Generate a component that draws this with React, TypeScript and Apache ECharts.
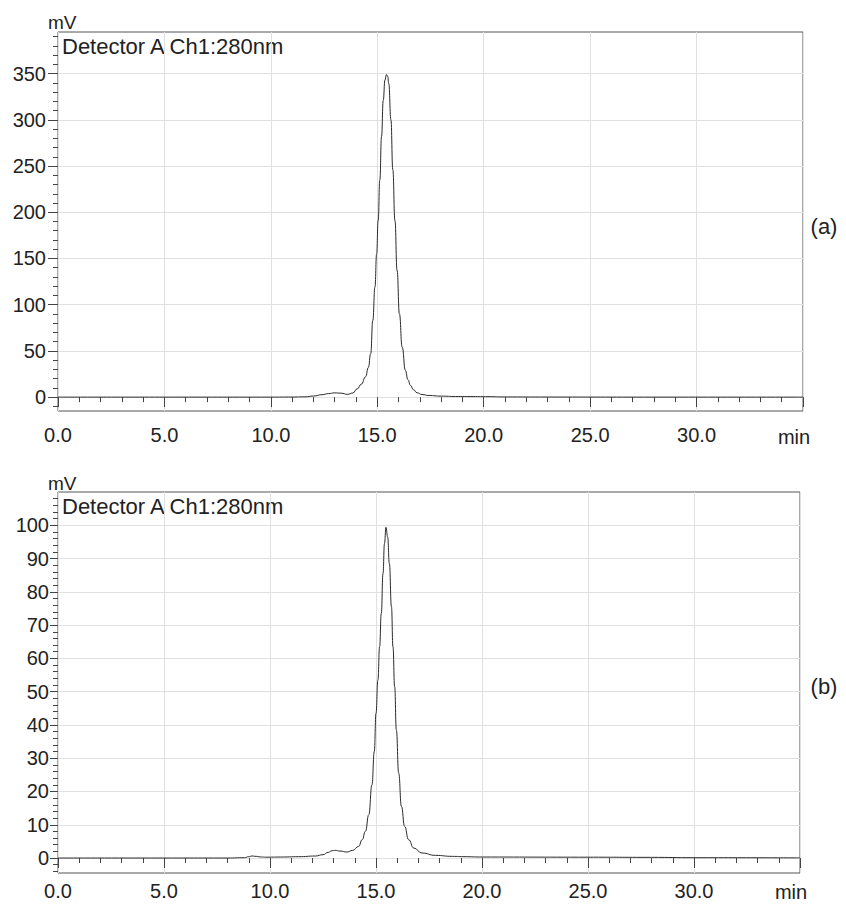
import React, { useEffect, useRef } from "react";
import * as echarts from "echarts";

// ---- Data ----
const timesA = [0, 5, 10, 11.0, 11.6, 12.0, 12.4, 12.7, 13.0, 13.3, 13.6, 13.85, 14.06, 14.25, 14.45, 14.58, 14.69, 14.79, 14.89, 14.97, 15.04, 15.12, 15.2, 15.28, 15.36, 15.43, 15.49, 15.54, 15.64, 15.73, 15.83, 15.93, 16.04, 16.17, 16.32, 16.44, 16.56, 16.7, 16.87, 17.1, 17.42, 18.0, 18.67, 19.5, 20.2, 21.0, 23, 28, 35];
const valuesA = [0, 0, 0, 0.1, 0.3, 1.2, 2.6, 3.8, 4.6, 4.3, 3.0, 4.5, 9.0, 14, 22, 32, 47, 83, 119, 155, 191, 235, 282, 321, 343, 349, 347, 339, 300, 246, 191, 137, 90, 54, 29, 19, 12.6, 8, 4.7, 2.8, 1.8, 1.1, 0.7, 0.6, 0.5, 0.2, 0.1, 0, 0];

const timesB = [0, 4, 8.0, 8.8, 9.0, 9.15, 9.35, 9.6, 9.8, 10.5, 11.35, 12.14, 12.5, 12.75, 12.92, 13.08, 13.3, 13.63, 13.9, 14.18, 14.35, 14.5, 14.66, 14.81, 14.92, 15.0, 15.09, 15.17, 15.25, 15.33, 15.4, 15.47, 15.55, 15.63, 15.73, 15.8, 15.88, 15.96, 16.07, 16.2, 16.35, 16.54, 16.78, 17.17, 17.8, 18.6, 19.2, 20, 25, 28, 30, 35];
const valuesB = [0, 0, 0, 0.1, 0.4, 0.6, 0.5, 0.3, 0.25, 0.3, 0.4, 0.6, 1.0, 1.7, 2.2, 2.3, 2.1, 1.8, 2.3, 3.5, 5.5, 8, 13, 22, 32, 43.5, 53.5, 63.5, 73.5, 85.5, 94.5, 99.4, 96.5, 88.5, 75.5, 63.5, 51.5, 38.5, 25.5, 15.5, 9.5, 5.5, 3, 1.5, 0.8, 0.5, 0.4, 0.3, 0.25, 0.2, 0.1, 0.05];

const yMajorA = [0, 50, 100, 150, 200, 250, 300, 350];
const yMinorA = [-10, 10, 20, 30, 40, 60, 70, 80, 90, 110, 120, 130, 140, 160, 170, 180, 190, 210, 220, 230, 240, 260, 270, 280, 290, 310, 320, 330, 340, 360, 370, 380, 390];
const yMajorB = [0, 10, 20, 30, 40, 50, 60, 70, 80, 90, 100];
const yMinorB = [-4, -2, 2, 4, 6, 8, 12, 14, 16, 18, 22, 24, 26, 28, 32, 34, 36, 38, 42, 44, 46, 48, 52, 54, 56, 58, 62, 64, 66, 68, 72, 74, 76, 78, 82, 84, 86, 88, 92, 94, 96, 98, 102, 104, 106, 108];

const detectorLabel = "Detector A Ch1:280nm";
const yUnit = "mV";
const xUnit = "min";
const panelLabels = ["(a)", "(b)"];

const FONT = "'Liberation Sans', Arial, Helvetica, sans-serif";
const TEXT = "#222";
const GRIDC = "#e0e0e0";
const AXC = "#444";

function zip(t: number[], v: number[]) {
  return t.map((x, i) => [x, v[i]]);
}

function xAxisCfg(gridIndex: number, margin: number) {
  return {
    gridIndex,
    type: "value",
    min: 0,
    max: 35,
    interval: 5,
    offset: 3,
    axisLine: { show: false },
    axisTick: { show: true, length: 10, lineStyle: { color: AXC, width: 1 } },
    minorTick: { show: true, splitNumber: 5, length: 5, lineStyle: { color: AXC, width: 1 } },
    axisLabel: {
      formatter: (v: number) => (v === 35 ? "" : v.toFixed(1)),
      fontSize: 20,
      color: TEXT,
      fontFamily: FONT,
      margin,
      showMaxLabel: true,
      showMinLabel: true,
    },
    splitLine: { show: true, lineStyle: { color: GRIDC, width: 1 } },
    minorSplitLine: { show: false },
  };
}

function yAxisMajor(gridIndex: number, min: number, max: number, ticks: number[], tickLen: number, margin: number) {
  return {
    gridIndex,
    type: "value",
    position: "left",
    min,
    max,
    axisLine: { show: false },
    axisTick: { show: true, customValues: ticks, length: tickLen, lineStyle: { color: AXC, width: 1 } },
    axisLabel: { customValues: ticks, fontSize: 20, color: TEXT, fontFamily: FONT, margin },
    splitLine: { show: true, lineStyle: { color: GRIDC, width: 1 } },
  };
}

function yAxisMinor(gridIndex: number, min: number, max: number, ticks: number[]) {
  return {
    gridIndex,
    type: "value",
    position: "left",
    offset: 0,
    min,
    max,
    axisLine: { show: false },
    axisTick: { show: true, customValues: ticks, length: 5, lineStyle: { color: AXC, width: 1 } },
    axisLabel: { show: false },
    splitLine: { show: false },
  };
}

function txt(x: number, y: number, text: string, size: number, align: string = "left") {
  return {
    type: "text",
    x,
    y,
    style: { text, fontSize: size, fontFamily: FONT, fill: TEXT, align, verticalAlign: "middle" },
    silent: true,
  };
}

export default function App() {
  const ref = useRef<HTMLDivElement>(null);
  useEffect(() => {
    if (!ref.current) return;
    const chart = echarts.init(ref.current, undefined, { renderer: "svg" });
    const option: any = {
      animation: false,
      backgroundColor: "#ffffff",
      grid: [
        { left: 58, top: 32, width: 745, height: 379, show: true, borderColor: "#555", borderWidth: 1, backgroundColor: "transparent" },
        { left: 58, top: 492, width: 742, height: 381, show: true, borderColor: "#555", borderWidth: 1, backgroundColor: "transparent" },
      ],
      xAxis: [xAxisCfg(0, 11), xAxisCfg(1, 5)],
      yAxis: [
        yAxisMajor(0, -15, 395, yMajorA, 10, 12),
        yAxisMinor(0, -15, 395, yMinorA),
        yAxisMajor(1, -4.5, 110, yMajorB, 8, 9),
        yAxisMinor(1, -4.5, 110, yMinorB),
      ],
      series: [
        {
          type: "line",
          xAxisIndex: 0,
          yAxisIndex: 0,
          data: zip(timesA, valuesA),
          showSymbol: false,
          smooth: 0.5,
          smoothMonotone: "x",
          lineStyle: { color: "#2a2a2a", width: 1 },
          silent: true,
        },
        {
          type: "line",
          xAxisIndex: 1,
          yAxisIndex: 2,
          data: zip(timesB, valuesB),
          showSymbol: false,
          smooth: 0.5,
          smoothMonotone: "x",
          lineStyle: { color: "#2a2a2a", width: 1 },
          silent: true,
        },
      ],
      graphic: [
        txt(48, 22, yUnit, 19),
        txt(62, 46, detectorLabel, 22),
        txt(794, 437, xUnit, 20, "center"),
        txt(824, 226, panelLabels[0], 22, "center"),
        txt(48, 483, yUnit, 19),
        txt(62, 506, detectorLabel, 22),
        txt(791, 892, xUnit, 20, "center"),
        txt(824, 686, panelLabels[1], 22, "center"),
      ],
    };
    chart.setOption(option);
    return () => chart.dispose();
  }, []);
  return <div ref={ref} style={{ position: "absolute", left: 0, top: 0, width: 846, height: 906 }} />;
}
